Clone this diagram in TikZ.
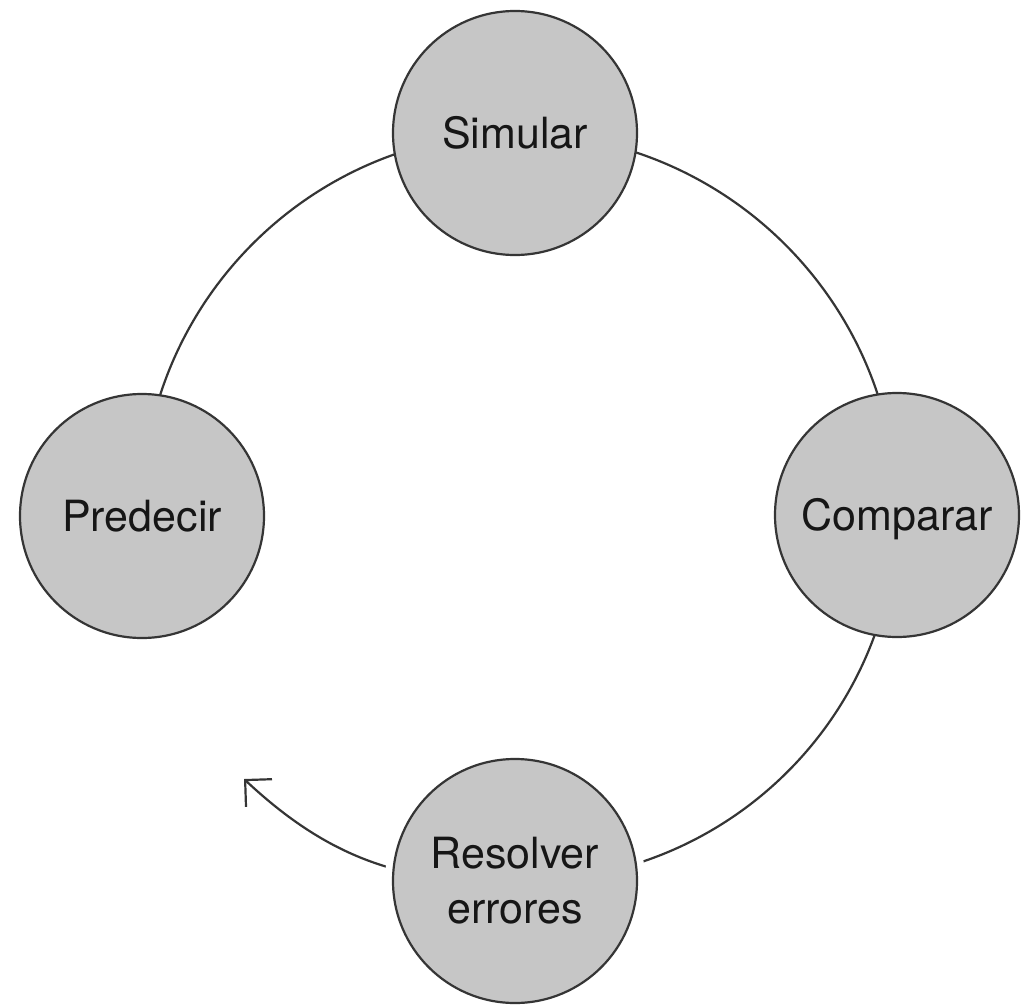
\documentclass[tikz,border=0pt]{standalone}
\usepackage{fontspec}
\setmainfont{TeX Gyre Heros}
\usetikzlibrary{arrows.meta,backgrounds}
\definecolor{linegray}{HTML}{353535}
\definecolor{fillgray}{HTML}{C6C6C6}
\definecolor{textgray}{HTML}{161616}
\begin{document}
\begin{tikzpicture}[x=1pt,y=-1pt,
  stage/.style={circle, draw=linegray, fill=fillgray, line width=2.2pt, minimum size=244pt, inner sep=0pt, font=\fontsize{43}{55}\selectfont, text=textgray, align=center},
  oneline/.style={text height=31pt, text depth=0pt},
  halo/.style={preaction={draw=white, line width=16pt}},
  link/.style={draw=linegray, line width=2.2pt}]
\useasboundingbox (0,0) rectangle (1025,1006);
\node[stage,oneline] (S) at (515,133) {Simular};
\node[stage,oneline] (P) at (142,516) {Predecir};
\node[stage,oneline] (C) at (897,515) {Comparar};
\node[stage,halo] (R) at (515,881) {Resolver\\errores};
\coordinate (A) at (244,779);
\begin{scope}[on background layer]
\draw[link] (S.center) to[bend right=45] (P.center);
\draw[link] (S.center) to[bend left=45] (C.center);
\draw[link] (C.center) to[bend left=45] (R.center);
\draw[link, -{Straight Barb[length=19pt,width=38pt]}] (R.center) to[bend left=22.5] (A);
\end{scope}
\end{tikzpicture}
\end{document}
